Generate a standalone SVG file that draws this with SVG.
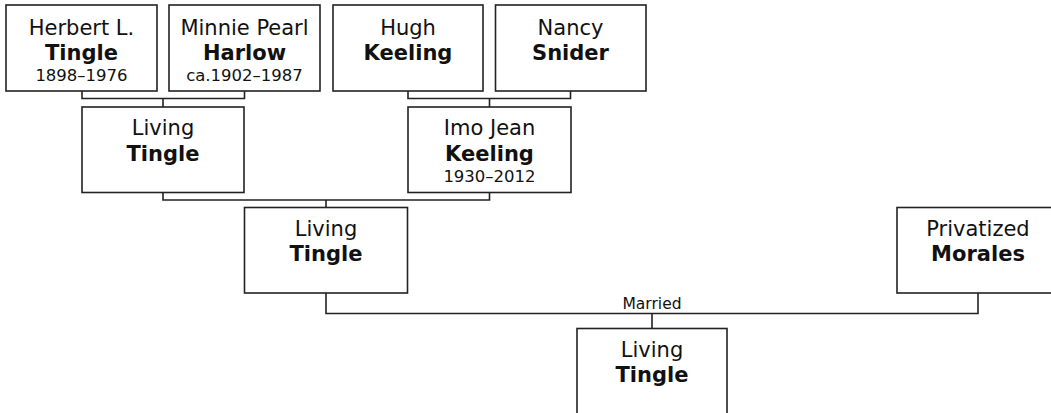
<svg xmlns="http://www.w3.org/2000/svg" width="1051" height="413" viewBox="0 0 1051 413">
<style>
.box{fill:#fff;stroke:#222;stroke-width:1.6}
.ln{fill:none;stroke:#222;stroke-width:1.6}
text{font-family:"DejaVu Sans",Verdana,sans-serif;fill:#111;text-anchor:middle}
.n{font-size:21px}
.b{font-size:21px;font-weight:bold}
.d{font-size:16.5px}
.m{font-size:15.5px}
</style>
<rect width="1051" height="413" fill="#fff"/>
<g id="connectors">
<path class="ln" d="M82,91V98.5H244.5V91M163,98.5V107"/>
<path class="ln" d="M408,91V98.5H570.5V91M489.5,98.5V107"/>
<path class="ln" d="M163,192.5V200H489.5V192.5M326,200V207.5"/>
<path class="ln" d="M326,293V313.5H978V293M652,313.5V328.5"/>
<text class="m" x="652" y="309">Married</text>
</g>
<g id="herbert">
<rect class="box" x="6" y="5" width="151" height="86"/>
<text class="n" x="81.5" y="35">Herbert L.</text>
<text class="b" x="81.5" y="60">Tingle</text>
<text class="d" x="81.5" y="81">1898–1976</text>
</g>
<g id="minnie">
<rect class="box" x="169" y="5" width="151" height="86"/>
<text class="n" x="244.5" y="35">Minnie Pearl</text>
<text class="b" x="244.5" y="60">Harlow</text>
<text class="d" x="244.5" y="81">ca.1902–1987</text>
</g>
<g id="hugh">
<rect class="box" x="333" y="5" width="150" height="86"/>
<text class="n" x="408" y="35">Hugh</text>
<text class="b" x="408" y="60">Keeling</text>
</g>
<g id="nancy">
<rect class="box" x="495.5" y="5" width="150.5" height="86"/>
<text class="n" x="570.5" y="35">Nancy</text>
<text class="b" x="570.5" y="60">Snider</text>
</g>
<g id="living1">
<rect class="box" x="82" y="107" width="162" height="85.5"/>
<text class="n" x="163" y="135">Living</text>
<text class="b" x="163" y="160.5">Tingle</text>
</g>
<g id="imo">
<rect class="box" x="408" y="107" width="163" height="85.5"/>
<text class="n" x="489.5" y="135">Imo Jean</text>
<text class="b" x="489.5" y="160.5">Keeling</text>
<text class="d" x="489.5" y="182">1930–2012</text>
</g>
<g id="living2">
<rect class="box" x="244.5" y="207.5" width="163" height="85.5"/>
<text class="n" x="326" y="236">Living</text>
<text class="b" x="326" y="261">Tingle</text>
</g>
<g id="morales">
<rect class="box" x="897" y="207.5" width="163" height="85.5"/>
<text class="n" x="978" y="236">Privatized</text>
<text class="b" x="978" y="261">Morales</text>
</g>
<g id="child">
<rect class="box" x="577" y="328.5" width="150" height="100"/>
<text class="n" x="652" y="357">Living</text>
<text class="b" x="652" y="382">Tingle</text>
</g>
</svg>
